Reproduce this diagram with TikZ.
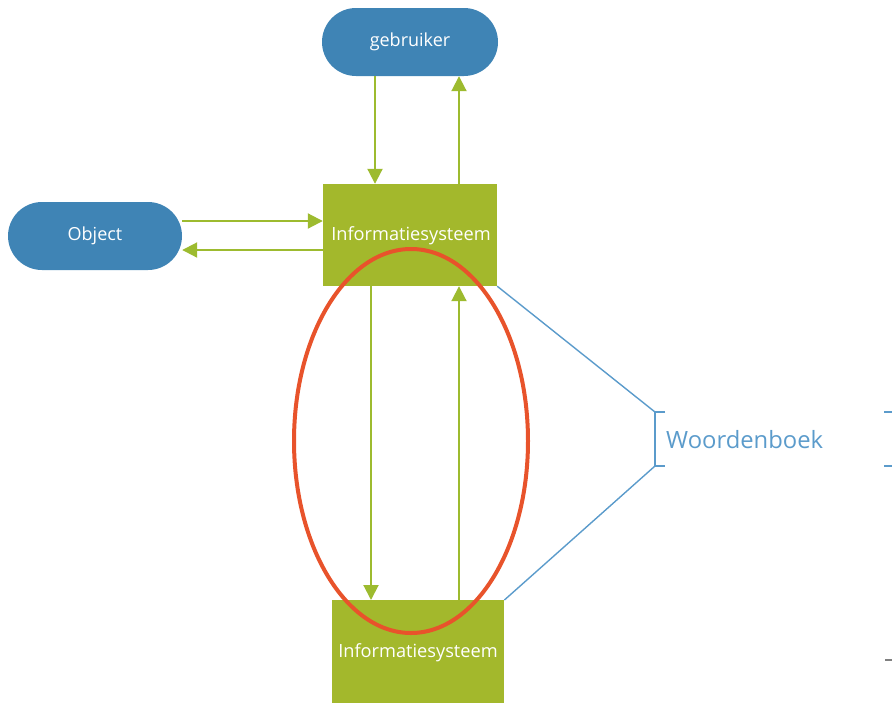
\documentclass[tikz,border=0pt]{standalone}
\usepackage{fontspec}
\setmainfont{Open Sans}
\usetikzlibrary{arrows.meta,shapes.misc,shapes.geometric}
\definecolor{nodeblue}{HTML}{3F84B5}
\definecolor{sysgreen}{HTML}{A3B82C}
\definecolor{arrowgreen}{HTML}{9DBB2F}
\definecolor{ringred}{HTML}{E8532B}
\definecolor{dictblue}{HTML}{5B9BCB}
\tikzset{
  actor/.style={rounded rectangle, fill=nodeblue, text=white, minimum width=176pt,
    minimum height=68pt, inner sep=0pt, font=\fontsize{18}{20}\selectfont},
  system/.style={rectangle, fill=sysgreen, text=white, inner sep=0pt},
  systext/.style={text=white, font=\fontsize{18.2}{20}\selectfont},
  flow/.style={arrowgreen, line width=2pt, -{Triangle[length=15pt,width=15pt]}},
  dictline/.style={dictblue, line width=1.4pt},
}
\begin{document}
\begin{tikzpicture}[x=1pt,y=-1pt]
  \useasboundingbox (0,0) rectangle (892,702);
  % actors
  \node[actor] (user) at (410,42) {gebruiker};
  \node[actor, minimum width=174pt] (obj) at (95,236) {Object};
  % information systems
  \node[system, minimum width=174pt, minimum height=102pt] (sys1) at (410,235) {};
  \node[systext] (sys1t) at (411,236) {Informatiesysteem};
  \node[system, minimum width=172pt, minimum height=110pt, anchor=north west] (sys2) at (332,600) {};
  \node[systext] (sys2t) at (418,653) {Informatiesysteem};
  % flows between user and system
  \draw[flow] (user.south -| 375,0) -- (sys1.north -| 375,0);
  \draw[flow] (sys1.north -| 459,0) -- (user.south -| 459,0);
  % flows between object and system
  \draw[flow] (obj.east |- 0,221) -- (sys1.west |- 0,221);
  \draw[flow] (sys1.west |- 0,250) -- (obj.east |- 0,250);
  % flows between the two systems
  \draw[flow] (sys1.south -| 371,0) -- (sys2.north -| 371,0);
  \draw[flow] (sys2.north -| 459,0) -- (sys1.south -| 459,0);
  % highlighted exchange
  \node[draw=ringred, line width=4pt, ellipse, minimum width=234pt, minimum height=384pt, inner sep=0pt] (ring) at (411,441) {};
  % dictionary callout
  \coordinate (bt) at (655,412);
  \coordinate (bb) at (655,466);
  \draw[dictline] (sys1.south east) -- (bt);
  \draw[dictline] (sys2.north east) -- (bb);
  \draw[dictline] (665,412) -- (bt) -- (bb) -- (665,466);
  \node[anchor=west, text=dictblue, font=\fontsize{23.8}{26}\selectfont, inner sep=0pt] (dict) at (666,440) {Woordenboek};
  % second bracket at the edge
  \draw[dictline] (884,412) -- (892,412);
  \draw[dictline] (884,466) -- (892,466);
  \draw[gray, line width=1.5pt] (885,660) -- (892,660);
\end{tikzpicture}
\end{document}
